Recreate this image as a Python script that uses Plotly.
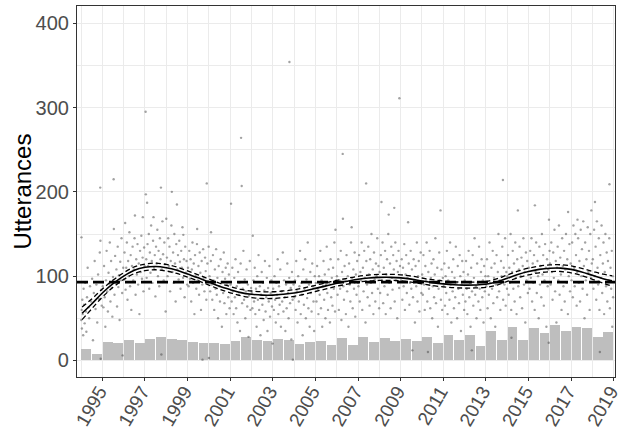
import plotly.graph_objects as go

# ---- half-year bars (bin centres and heights) ----
bar_mid = [1994.25, 1994.75, 1995.25, 1995.75, 1996.25, 1996.75, 1997.25, 1997.75,
           1998.25, 1998.75, 1999.25, 1999.75, 2000.25, 2000.75, 2001.25, 2001.75,
           2002.25, 2002.75, 2003.25, 2003.75, 2004.25, 2004.75, 2005.25, 2005.75,
           2006.25, 2006.75, 2007.25, 2007.75, 2008.25, 2008.75, 2009.25, 2009.75,
           2010.25, 2010.75, 2011.25, 2011.75, 2012.25, 2012.75, 2013.25, 2013.75,
           2014.25, 2014.75, 2015.25, 2015.75, 2016.25, 2016.75, 2017.25, 2017.75,
           2018.25, 2018.75]
bar_val = [14, 8, 22, 21, 24, 21, 26, 28, 26, 24, 22, 21, 21, 20, 23, 28, 24, 23,
           26, 24, 20, 22, 23, 18, 27, 18, 28, 22, 27, 23, 26, 23, 28, 21, 30, 24,
           30, 17, 35, 24, 40, 24, 39, 32, 42, 35, 40, 39, 28, 34]

# ---- utterances per sitting: "hundredths-of-year:count" ----
utt_by_year = {
    1994: "01:48 02:146 03:60 04:38 06:72 08:55 10:30 12:85 14:66 17:44 20:92 23:58 25:34 28:75 31:110 35:63 38:50 42:88 47:70 52:97 56:24 60:80 64:118 68:61 72:90 76:45 80:102 84:73 88:128 90:205 91:142 92:2 95:84 97:65",
    1995: "02:88 05:63 08:112 11:75 14:40 17:95 20:130 23:82 26:58 29:104 32:91 35:140 38:70 41:118 44:86 47:52 50:99 53:215 54:156 57:78 60:124 63:92 66:108 69:64 72:135 75:87 78:101 81:48 84:117 87:95 90:145 93:80 95:6 98:110",
    1996: "02:96 04:128 07:163 09:84 12:110 15:140 18:72 21:118 24:100 27:152 30:88 33:125 36:60 39:112 42:135 45:95 48:108 51:145 53:172 56:78 59:120 62:102 65:138 68:90 71:115 74:55 77:130 80:105 83:148 86:97 89:122 90:170 93:82 96:134 98:112",
    1997: "03:295 04:197 06:120 08:98 10:187 12:138 15:112 18:150 20:85 23:128 26:104 29:160 32:118 35:92 38:142 40:170 43:110 46:125 49:76 52:135 55:115 58:155 61:100 64:130 67:88 70:145 73:120 75:205 77:7 79:108 82:165 85:126 88:95 91:140 94:114 97:58",
    1998: "00:168 03:122 06:100 09:145 12:112 15:135 18:82 21:118 24:160 26:200 29:105 32:128 35:92 38:150 41:115 44:70 47:138 50:185 52:108 55:125 58:96 61:142 64:117 67:85 70:130 73:110 76:158 79:98 80:149 83:120 86:75 89:135 92:104 95:118 98:90",
    1999: "02:110 05:88 08:130 11:97 14:120 17:70 20:108 23:140 26:92 29:115 32:55 35:125 38:100 41:85 44:138 45:156 48:95 51:112 54:78 57:128 60:104 63:60 66:118 69:90 70:1 73:132 76:98 79:82 82:122 85:106 88:72 90:210 93:115 96:94 99:135",
    2000: "00:3 03:100 06:82 09:118 10:152 13:90 16:72 19:125 22:95 25:60 28:108 31:85 34:132 37:78 40:98 43:50 46:112 49:88 52:70 55:120 58:93 61:40 64:105 67:80 70:128 73:68 76:97 79:110 82:55 85:90 88:115 91:75 94:102 97:62",
    2001: "02:90 04:186 07:70 10:110 13:82 16:55 19:98 22:75 25:120 28:62 31:88 34:45 37:105 40:78 43:92 46:35 49:115 51:264 54:207 56:68 59:85 62:130 65:72 68:96 71:50 74:82 77:108 80:64 83:90 86:28 89:77 92:118 95:60 98:86",
    2002: "01:80 04:62 06:148 09:95 12:70 15:110 18:55 21:85 24:40 27:100 30:72 33:125 36:60 39:88 42:30 45:78 48:105 51:66 54:92 57:48 60:83 63:118 66:58 69:75 72:98 75:35 78:86 81:70 84:112 87:52 90:80 93:95 96:64 99:20",
    2003: "02:85 05:60 08:100 11:72 14:45 17:92 20:78 23:120 26:55 29:88 32:66 35:108 38:40 41:82 44:70 47:128 50:58 53:95 56:75 59:35 62:90 65:62 68:115 71:80 74:50 77:98 78:354 81:68 84:86 87:25 90:105 93:72 94:1 97:90",
    2004: "01:75 04:95 07:60 10:118 13:82 16:45 19:100 22:70 25:88 28:130 31:55 34:92 37:78 40:30 43:108 46:66 49:85 52:120 55:50 58:96 61:74 64:140 67:62 70:90 73:40 76:105 79:80 82:58 85:115 88:88 91:70 94:35 97:100",
    2005: "02:92 05:70 08:112 11:85 14:55 17:100 20:78 23:130 26:62 29:95 32:40 35:88 38:118 41:72 44:102 47:50 50:90 53:135 56:80 59:60 62:108 65:92 68:45 71:120 74:75 77:98 80:65 83:110 86:85 89:140 92:58 94:155 97:95",
    2006: "01:100 04:78 07:120 10:60 13:95 16:85 19:130 22:48 25:105 28:245 29:168 31:88 34:72 37:112 40:95 43:55 46:125 49:82 52:100 55:40 58:115 61:90 64:70 67:140 70:158 72:98 75:62 78:108 81:85 84:128 87:52 90:102 93:78 96:118 99:92",
    2007: "02:88 05:125 08:70 11:105 14:95 17:140 20:60 23:110 26:82 29:130 32:98 35:45 38:210 39:118 42:90 45:75 48:135 51:102 54:65 57:120 60:92 63:150 66:80 69:108 72:55 75:128 78:96 81:70 84:115 87:100 90:145 93:85 96:112 99:62",
    2008: "01:105 04:80 07:125 10:188 12:95 15:140 18:68 21:110 24:88 27:130 30:55 33:102 36:120 39:78 42:150 44:173 47:92 50:115 53:62 56:135 59:98 62:84 65:125 68:108 70:181 72:70 75:140 78:95 81:118 84:50 87:105 90:130 93:86 94:311 97:112",
    2009: "02:95 05:120 08:72 11:110 14:88 17:138 20:60 23:102 26:125 29:80 32:98 35:164 38:115 41:66 44:92 47:130 50:85 53:108 55:12 58:75 61:120 64:95 67:45 70:112 73:88 76:140 79:70 82:100 85:118 88:58 91:92 94:128 97:80",
    2010: "01:102 04:78 07:125 10:90 13:60 16:112 19:95 22:140 25:70 28:10 30:105 33:85 36:130 39:62 42:98 45:115 48:50 51:88 54:120 57:75 60:102 63:145 66:68 69:92 72:110 75:40 78:85 81:128 84:95 87:178 89:72 92:108 95:60 98:98",
    2011: "02:88 05:115 08:65 11:100 14:80 17:130 20:55 23:95 26:110 29:72 32:140 35:90 38:45 41:105 44:82 47:120 50:62 53:98 56:75 59:135 62:92 65:50 68:112 71:85 74:68 77:125 80:100 83:35 86:90 89:118 92:78 95:105 98:60",
    2012: "01:95 04:70 07:118 10:85 13:55 16:102 19:130 22:75 25:92 28:40 31:110 34:12 35:82 38:125 41:65 44:98 47:145 50:78 53:88 56:50 59:115 62:92 65:70 68:135 71:85 74:60 77:105 80:120 83:75 86:95 89:45 92:112 95:82 98:100",
    2013: "02:88 05:120 08:62 11:100 14:78 17:140 20:92 23:50 26:110 29:85 32:130 35:68 38:98 41:115 44:40 47:90 50:125 53:75 56:105 59:150 62:82 65:95 68:60 71:118 74:100 77:135 80:214 81:72 84:110 87:90 90:145 93:65 96:105 99:85",
    2014: "01:100 04:125 07:78 10:110 13:92 16:150 19:60 20:27 23:105 26:130 29:85 32:115 35:70 38:140 41:98 44:55 47:120 50:178 52:88 55:108 58:135 61:75 64:100 67:122 70:62 73:112 76:145 79:90 82:105 85:45 88:128 91:95 94:118 97:80",
    2015: "02:110 05:85 08:130 11:98 14:145 17:70 20:115 23:92 26:125 29:60 30:184 33:105 36:140 39:80 42:118 45:100 48:50 51:135 54:90 57:112 60:75 63:150 66:102 69:125 72:65 75:95 78:138 81:110 84:40 87:120 90:88 93:108 95:21 96:167 99:130",
    2016: "01:115 04:90 07:140 10:105 13:72 16:128 19:98 22:155 25:82 28:118 31:45 34:110 37:135 40:95 43:160 46:78 49:122 52:102 55:60 58:145 61:112 64:88 67:130 70:70 73:108 76:150 79:92 82:120 85:55 86:176 89:100 92:138 95:82 98:115",
    2017: "02:95 05:140 08:75 11:160 14:110 17:88 20:150 23:125 26:65 29:105 30:167 33:145 36:92 39:118 42:70 45:155 48:100 51:132 54:85 57:165 60:112 63:50 66:140 69:95 72:120 75:78 78:158 81:105 84:130 87:60 90:150 93:98 95:178 97:115",
    2018: "02:120 05:85 08:155 11:100 12:188 15:135 18:72 21:165 24:110 27:90 30:145 33:60 35:10 37:125 40:98 43:160 46:80 49:115 52:140 55:55 58:105 61:150 64:88 67:128 70:70 73:118 76:95 79:145 80:209 82:62 85:110 88:85 91:130 93:40 95:100 97:75",
}

# ---- smoothed trend with confidence half-width ----
fit_year = [1994.05, 1994.5, 1995.0, 1995.5, 1996.0, 1996.5, 1997.0, 1997.5, 1998.0,
            1998.5, 1999.0, 1999.5, 2000.0, 2000.5, 2001.0, 2001.5, 2002.0, 2002.5,
            2003.0, 2003.5, 2004.0, 2004.5, 2005.0, 2005.5, 2006.0, 2006.5, 2007.0,
            2007.5, 2008.0, 2008.5, 2009.0, 2009.5, 2010.0, 2010.5, 2011.0, 2011.5,
            2012.0, 2012.5, 2013.0, 2013.5, 2014.0, 2014.5, 2015.0, 2015.5, 2016.0,
            2016.5, 2017.0, 2017.5, 2018.0, 2018.5, 2018.92]
fit_val = [56, 67, 80, 91, 100, 107, 110.5, 111.5, 110, 107, 102.5, 98, 93, 88, 84,
           80.5, 78.5, 77.5, 77.5, 78.5, 80, 82.5, 85.5, 88.5, 91.5, 94, 96.3, 97.8,
           98.5, 98.6, 98, 96.5, 94.3, 92.3, 90.8, 89.8, 89.4, 89.5, 90.3, 93, 97.5,
           102, 105.5, 108, 109.3, 109.5, 108, 105, 101, 97, 94.5]
fit_ci = [7.5, 5.8, 4.8, 4.3, 4.0, 3.9, 3.9, 3.9, 3.9, 3.8, 3.7, 3.6, 3.6, 3.6, 3.7,
          3.8, 3.9, 4.0, 4.0, 4.0, 3.9, 3.8, 3.7, 3.6, 3.5, 3.5, 3.5, 3.5, 3.6, 3.6,
          3.6, 3.6, 3.5, 3.5, 3.5, 3.5, 3.5, 3.5, 3.6, 3.7, 3.8, 3.9, 4.0, 4.0, 4.0,
          4.0, 4.1, 4.3, 4.7, 5.3, 6.2]

mean_utterances = 93

x_ticks = list(range(1995, 2020, 2))
y_ticks = [0, 100, 200, 300, 400]

# decode scatter strings
pt_x, pt_y = [], []
for yr, row in utt_by_year.items():
    for tok in row.split():
        frac, val = tok.split(":")
        pt_x.append(yr + int(frac) / 100)
        pt_y.append(int(val))

fit_hi = [v + c for v, c in zip(fit_val, fit_ci)]
fit_lo = [v - c for v, c in zip(fit_val, fit_ci)]

X_RANGE = [1993.81, 2019.06]

fig = go.Figure()

fig.add_trace(go.Bar(x=bar_mid, y=bar_val, width=0.46,
                     marker=dict(color="#BEBEBE", line=dict(width=0)),
                     hoverinfo="skip"))

fig.add_trace(go.Scatter(x=pt_x, y=pt_y, mode="markers",
                         marker=dict(size=2.4, color="rgba(70,70,70,0.5)",
                                     line=dict(width=0))))

for band in (fit_hi, fit_lo):
    fig.add_trace(go.Scatter(x=fit_year, y=band, mode="lines",
                             line=dict(color="black", width=1.3, dash="5px,3px",
                                       shape="spline", smoothing=1.0)))

fig.add_trace(go.Scatter(x=fit_year, y=fit_val, mode="lines",
                         line=dict(color="black", width=1.6, shape="spline",
                                   smoothing=1.0)))

fig.add_trace(go.Scatter(x=X_RANGE, y=[mean_utterances] * 2, mode="lines",
                         line=dict(color="black", width=2.8, dash="11px,5px")))

grid = "#EBEBEB"
fam = "Liberation Sans, Arial, sans-serif"
fig.update_layout(
    width=621, height=435,
    margin=dict(l=77, r=6, t=6, b=58, autoexpand=False),
    paper_bgcolor="white", plot_bgcolor="white",
    showlegend=False, bargap=0,
    font=dict(family=fam),
    xaxis=dict(range=X_RANGE, tickmode="array", tickvals=x_ticks,
               ticktext=[str(t) for t in x_ticks], tickangle=-60,
               tickfont=dict(family=fam, size=19, color="#4D4D4D"),
               automargin=False, ticklabeloverflow="allow",
               ticklabelstandoff=-8, ticklabelshift=-3,
               ticks="outside", ticklen=3, tickcolor="#333333",
               showgrid=True, gridcolor=grid, gridwidth=1.1, zeroline=False,
               minor=dict(tickvals=list(range(1994, 2019, 2)), showgrid=True,
                          gridcolor=grid, gridwidth=0.6, ticks=""),
               showline=True, linecolor="#333333", linewidth=1.2, mirror=True),
    yaxis=dict(range=[-19.6, 420.4], tickmode="array", tickvals=y_ticks,
               tickfont=dict(family=fam, size=20, color="#4D4D4D"),
               automargin=False,
               ticks="outside", ticklen=3, tickcolor="#333333",
               showgrid=True, gridcolor=grid, gridwidth=1.1, zeroline=False,
               minor=dict(tickvals=[50, 150, 250, 350], showgrid=True,
                          gridcolor=grid, gridwidth=0.6, ticks=""),
               showline=True, linecolor="#333333", linewidth=1.2, mirror=True),
    annotations=[dict(text="Utterances", xref="paper", yref="paper",
                      x=-0.102, y=0.5, xanchor="center", yanchor="middle",
                      textangle=-90, showarrow=False,
                      font=dict(size=24, color="black"))],
)

fig.write_html("out.html")
